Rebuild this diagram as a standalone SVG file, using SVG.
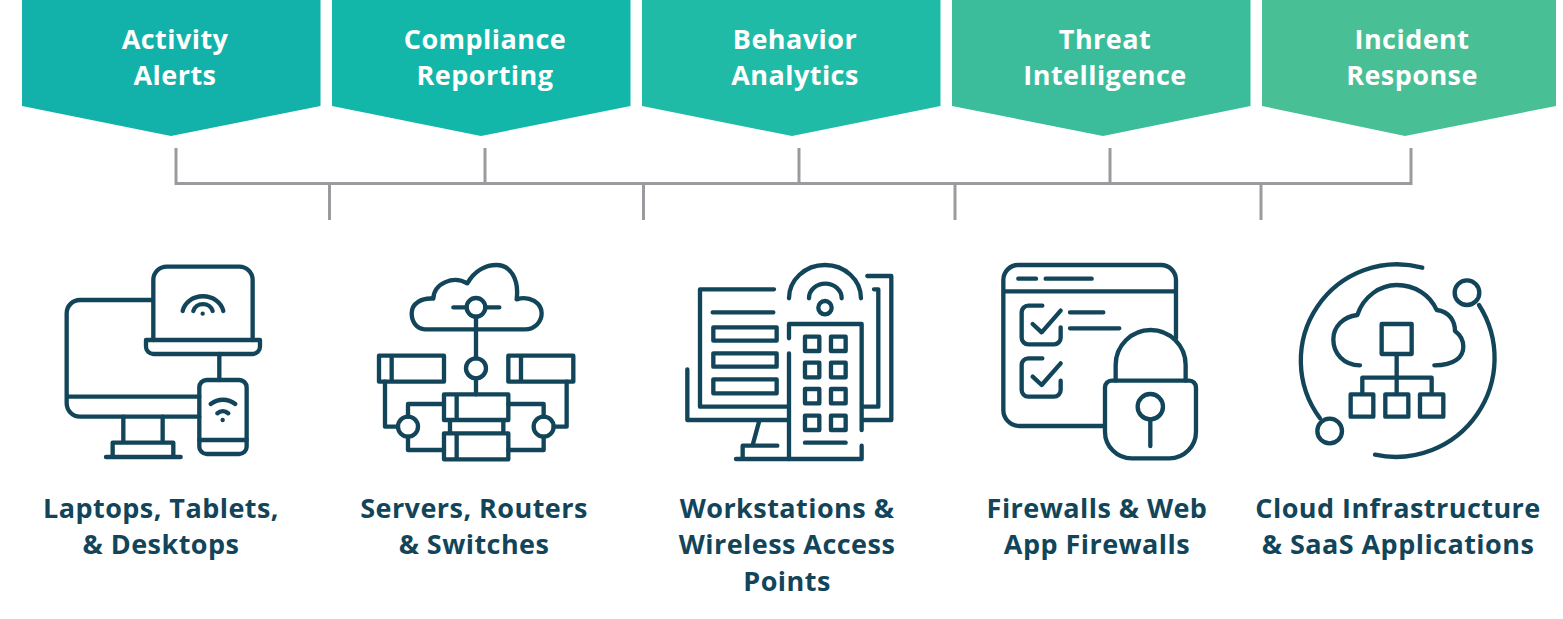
<svg xmlns="http://www.w3.org/2000/svg" width="1563" height="619" viewBox="0 0 1563 619">
<style>
text{font-family:"Open Sans","Noto Sans","Liberation Sans",sans-serif;font-weight:700;font-size:27px;text-anchor:middle;letter-spacing:.45px}
.h text{fill:#fff}
.l{fill:#12455a}
.i{fill:none;stroke:#12455a;stroke-width:13;stroke-linecap:round;stroke-linejoin:round}
.c{fill:none;stroke:#9b9b9f;stroke-width:3}
</style>
<rect width="1563" height="619" fill="#fff"/>
<g id="connectors" class="c">
<path d="M176 148V183.500H1411V148M485 148V183.500M799 148V183.500M1110 148V183.500M329.500 183.500V220M643.500 183.500V220M955 183.500V220M1261 183.500V220"/>
</g>
<g id="activity-alerts" class="h"><path d="M22 0H320.500V106L171 136L22 106Z" fill="#12b2aa"/><text x="175" y="49">Activity</text><text x="175" y="85">Alerts</text></g>
<g id="compliance-reporting" class="h"><path d="M332 0H630.500V106L481 136L332 106Z" fill="#13b7a9"/><text x="485" y="49">Compliance</text><text x="485" y="85">Reporting</text></g>
<g id="behavior-analytics" class="h"><path d="M642 0H940.500V106L792 136L642 106Z" fill="#20bba7"/><text x="795" y="49">Behavior</text><text x="795" y="85">Analytics</text></g>
<g id="threat-intelligence" class="h"><path d="M952 0H1250.500V106L1103 136L952 106Z" fill="#3bbd9b"/><text x="1105" y="49">Threat</text><text x="1105" y="85">Intelligence</text></g>
<g id="incident-response" class="h"><path d="M1262 0H1556V106L1405 136L1262 106Z" fill="#48bf94"/><text x="1412" y="49">Incident</text><text x="1412" y="85">Response</text></g>
<g id="devices">
<g class="i" transform="translate(40 250) scale(.3333)">
<path d="M338 150H120A40 40 0 0 0 80 190V460A40 40 0 0 0 120 500H478M80 440H478"/>
<path d="M340 270V90A40 40 0 0 1 380 50H598A40 40 0 0 1 638 90V270"/>
<path d="M318 270H660V290A22 22 0 0 1 638 312H340A22 22 0 0 1 318 290Z"/>
<path d="M538 312V390"/>
<rect x="478" y="390" width="142" height="222" rx="22"/>
<path d="M478 570H620"/>
<path d="M250 500V578M368 500V578M218 620V578H400V620M198 621H422"/>
<path d="M428 183A62 54 0 0 1 550 183M460 183A30 28 0 0 1 518 183M512 462A60 60 0 0 1 586 462M532 490A24 24 0 0 1 565 490"/>
<path d="M488 191h.1M548 510h.1"/>
</g>
<text class="l" x="161" y="518">Laptops, Tablets,</text><text class="l" x="161" y="554">&amp; Desktops</text>
</g>
<g id="servers">
<g class="i" transform="translate(360 250) scale(.3333)">
<path d="M195 238C170 238 155 215 155 190C155 160 185 143 220 146C222 100 280 75 322 100C345 60 380 45 410 45C450 45 478 85 470 148C510 135 545 160 545 190C545 215 525 238 495 238Z"/>
<circle cx="348" cy="172" r="28"/><path d="M280 172H320M376 172H418M348 200V325M348 385V433"/>
<circle cx="348" cy="355" r="30"/>
<path d="M57 317H252V395H57ZM95 317V395M445 317H640V395H445ZM483 317V395"/>
<path d="M252 433H445V510H252ZM290 433V510M252 550H445V628H252ZM290 550V628M270 510V550M430 510V550"/>
<circle cx="144" cy="530" r="30"/><circle cx="551" cy="530" r="30"/>
<path d="M75 395V530H114M620 395V530H581M144 500V462H252M144 560V600H252M551 500V462H445M551 560V600H445"/>
</g>
<text class="l" x="474" y="518">Servers, Routers</text><text class="l" x="474" y="554">&amp; Switches</text>
</g>
<g id="workstations">
<g class="i" transform="translate(670 250) scale(.3333)">
<path d="M312 118H90V470H355M128 187H310"/>
<path d="M130 232H320V272H130ZM130 310H320V350H130ZM130 388H320V430H130Z"/>
<path d="M52 358V510H355M268 512L248 585M322 587H218V627M198 627H575V587"/>
<path d="M357 265V222H575V540M357 310V627M592 78H664V510H580M612 118H625V470H580"/>
<path d="M357 145A108 100 0 0 1 573 145M417 145A49 44 0 0 1 515 145"/><circle cx="465" cy="173" r="20"/>
<path d="M405 260H448V303H405ZM483 260H527V303H483ZM405 338H448V382H405ZM483 338H527V382H483ZM405 417H448V460H405ZM483 417H527V460H483ZM405 497H448V540H405ZM483 497H527V540H483ZM405 578H527"/>
</g>
<text class="l" x="787" y="518">Workstations &amp;</text><text class="l" x="787" y="554">Wireless Access</text><text class="l" x="787" y="591">Points</text>
</g>
<g id="firewalls">
<g class="i" transform="translate(980 250) scale(.3333)">
<path d="M588 265V90A45 45 0 0 0 543 45H115A45 45 0 0 0 70 90V480A48 48 0 0 0 118 528H375M70 124H588M115 86H168M197 86H335"/>
<path d="M187 167H145A20 20 0 0 0 125 187V263A20 20 0 0 0 145 283H222A20 20 0 0 0 242 263V232M158 222L185 247L242 182M270 187H370M270 235H418"/>
<path d="M187 325H145A20 20 0 0 0 125 345V420A20 20 0 0 0 145 440H222A20 20 0 0 0 242 420V392M158 380L185 405L242 340"/>
<path d="M395 392H628A20 20 0 0 1 648 412V545A80 80 0 0 1 568 625H455A80 80 0 0 1 375 545V412A20 20 0 0 1 395 392Z"/>
<path d="M407 392V345A105 105 0 0 1 617 345V392"/>
<circle cx="511" cy="470" r="38"/><path d="M511 508V588"/>
</g>
<text class="l" x="1097" y="518">Firewalls &amp; Web</text><text class="l" x="1097" y="554">App Firewalls</text>
</g>
<g id="cloud">
<g class="i" transform="translate(1280 250) scale(.3333)">
<path d="M427 53A289 289 0 0 0 120 505M597 165A296 296 0 0 1 285 614"/>
<circle cx="561" cy="128" r="37"/><circle cx="149" cy="543" r="37"/>
<path d="M240 346C190 346 160 310 160 268C160 230 190 200 232 195C250 140 300 105 350 105C405 105 450 135 470 180C510 185 525 215 525 243C548 260 550 280 550 290C550 320 525 346 463 346"/>
<path d="M305 222H395V312H305ZM350 312V430M247 430V383H455V430"/>
<path d="M212 433H280V500H212ZM316 433H385V500H316ZM420 433H490V500H420Z"/>
</g>
<text class="l" x="1398" y="518">Cloud Infrastructure</text><text class="l" x="1398" y="554">&amp; SaaS Applications</text>
</g>
</svg>
